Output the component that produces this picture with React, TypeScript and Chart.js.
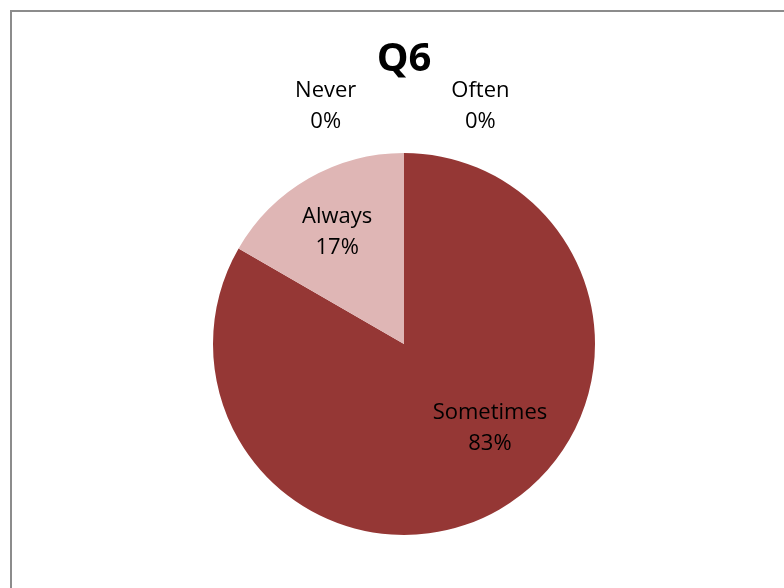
import React, { useEffect, useRef } from "react";
import { Chart, registerables } from "chart.js";

Chart.register(...registerables);

const categories = ["Often", "Sometimes", "Always", "Never"];
const counts = [0, 5, 1, 0];
const sliceColors = ["#7F7F7F", "#953735", "#DFB6B5", "#4F81BD"];
// label anchors relative to pie centre, in units of the pie radius
const labelAnchors = [
  [0.40, -1.25],
  [0.45, 0.44],
  [-0.35, -0.59],
  [-0.41, -1.25],
];

const FONT = "'Open Sans', 'Noto Sans', 'DejaVu Sans', sans-serif";

const labelPlugin = {
  id: "pieLabels",
  afterDatasetsDraw(chart: any) {
    const meta = chart.getDatasetMeta(0);
    const data = chart.data.datasets[0].data as number[];
    const total = data.reduce((a, b) => a + b, 0);
    const ctx = chart.ctx;
    ctx.save();
    ctx.font = `22px ${FONT}`;
    ctx.fillStyle = "#000000";
    ctx.textAlign = "center";
    ctx.textBaseline = "middle";
    meta.data.forEach((arc: any, i: number) => {
      const { x, y, outerRadius } = arc.getProps(["x", "y", "outerRadius"], true);
      const [fx, fy] = labelAnchors[i];
      const cx = x + fx * outerRadius;
      const cy = y + fy * outerRadius;
      const pct = Math.round((data[i] / total) * 100) + "%";
      ctx.fillText(chart.data.labels[i], cx, cy - 15);
      ctx.fillText(pct, cx, cy + 16);
    });
    ctx.restore();
  },
};

function App() {
  const ref = useRef<HTMLCanvasElement>(null);
  useEffect(() => {
    if (!ref.current) return;
    const chart = new Chart(ref.current, {
      type: "pie",
      data: {
        labels: categories,
        datasets: [
          {
            data: counts,
            backgroundColor: sliceColors,
            borderWidth: 0,
          },
        ],
      },
      options: {
        responsive: false,
        animation: false,
        layout: { padding: { left: 213, right: 189, top: 0, bottom: 53 } },
        plugins: {
          legend: { display: false },
          tooltip: { enabled: false },
          title: {
            display: true,
            text: "Q6",
            color: "#000000",
            font: { family: FONT, size: 40, weight: "bold", lineHeight: 1.2 },
            padding: { top: 36, bottom: 69 },
          },
        },
      },
      plugins: [labelPlugin],
    });
    return () => chart.destroy();
  }, []);
  return (
    <div style={{ position: "fixed", left: 0, top: 0, width: 784, height: 588, background: "#ffffff", overflow: "hidden" }}>
      <div
        style={{
          position: "absolute",
          left: 10,
          top: 10,
          width: 800,
          height: 600,
          borderLeft: "2px solid #8c8c8c",
          borderTop: "2px solid #8c8c8c",
        }}
      />
      <canvas ref={ref} width={784} height={588} style={{ position: "absolute", left: 0, top: 0 }} />
    </div>
  );
}

export default App;
